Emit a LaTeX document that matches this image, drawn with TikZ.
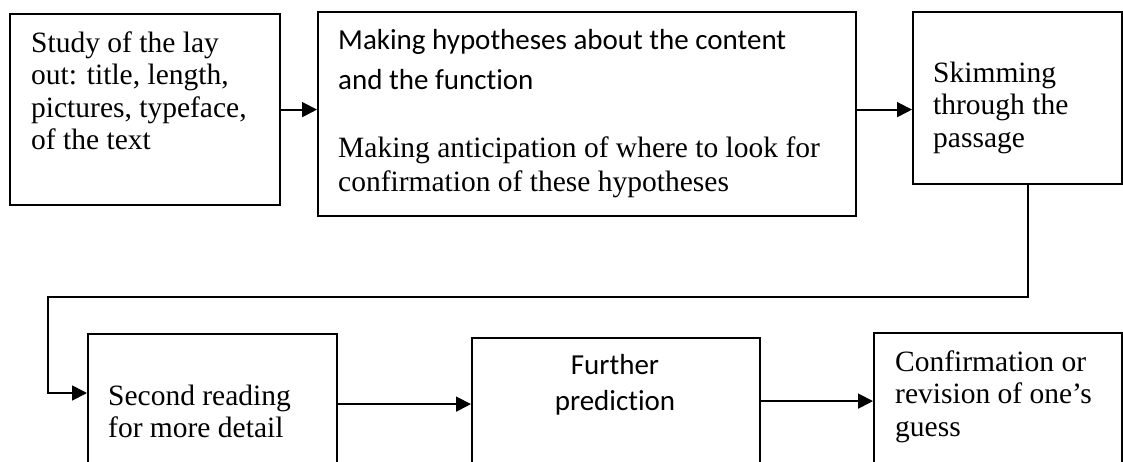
\documentclass[tikz,border=0pt]{standalone}
\usepackage{fontspec}
\setmainfont{Liberation Serif}
\newfontfamily\calibri[Ligatures=NoCommon]{Carlito}
\usetikzlibrary{arrows.meta,calc}

\tikzset{
  stage/.style={draw, line width=2.2pt, anchor=north west, inner sep=0pt},
  words/.style={anchor=north west, inner sep=0pt, align=left,
    font=\fontsize{29.5}{32.5}\selectfont},
  cwords/.style={words, font=\calibri\fontsize{29}{40}\selectfont},
  flow/.style={line width=1.8pt, -{Triangle[length=15pt,width=15pt]}}
}

\begin{document}
\begin{tikzpicture}[x=1pt, y=-1pt]
  \useasboundingbox (0,0) rectangle (1123,461);
  \clip (0,0) rectangle (1123,461);

  % first row
  \node[stage, minimum width=270pt, minimum height=191pt] (study) at (9,13) {};
  \node[words] (studytext) at (31,31.5)
    {Study of the lay\\out: title, length,\\pictures, typeface,\\of the text};

  \node[stage, minimum width=538pt, minimum height=204pt] (hypo) at (317,11) {};
  \node[cwords] (hypotext) at (338,29.5)
    {Making hypotheses about the content\\and the function};
  \node[words, font=\fontsize{29.5}{34}\selectfont] (anticitext) at (338,136.5)
    {Making anticipation of where to look for\\confirmation of these hypotheses};

  \node[stage, minimum width=209pt, minimum height=172pt] (skim) at (912,11) {};
  \node[words] (skimtext) at (933,61.5) {Skimming\\through the\\passage};

  % second row
  \node[stage, minimum width=249pt, minimum height=140pt] (second) at (87,333) {};
  \node[words] (secondtext) at (108,384.5) {Second reading\\for more detail};

  \node[stage, minimum width=288pt, minimum height=132pt] (further) at (471,337) {};
  \node[cwords, anchor=north, align=center, font=\calibri\fontsize{29}{36}\selectfont]
    (furthertext) at (615,353.7) {Further\\prediction};

  \node[stage, minimum width=248pt, minimum height=136pt] (confirm) at (873,332) {};
  \node[words] (confirmtext) at (895,350.5) {Confirmation or\\revision of one’s\\guess};

  % connectors
  \coordinate (turnR) at (1028,297);
  \coordinate (turnL) at (48,297);
  \draw[flow] (study.east) -- (study.east -| hypo.west);
  \draw[flow] (hypo.east |- study.east) -- (skim.west |- study.east);
  \draw[flow] (skim.south -| turnR) -- (turnR) -- (turnL) |- ($(second.north west)+(0,60)$);
  \draw[flow] (second.east) -- (second.east -| further.west);
  \draw[flow] (further.east |- confirm.west) -- (confirm.west);

\end{tikzpicture}
\end{document}
